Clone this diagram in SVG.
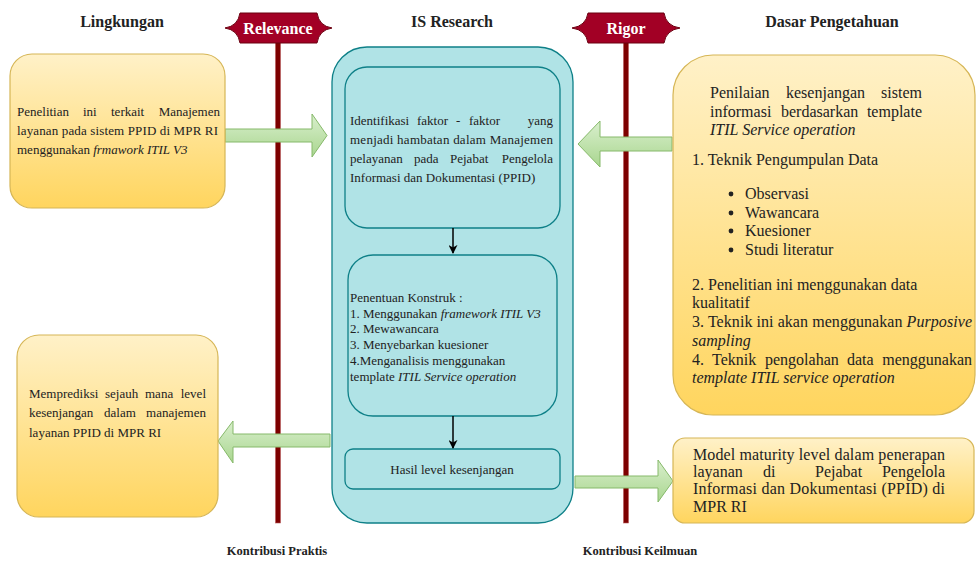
<svg xmlns="http://www.w3.org/2000/svg" width="977" height="561" viewBox="0 0 977 561">
<defs>
<linearGradient id="yel" x1="0" y1="0" x2="0" y2="1">
<stop offset="0" stop-color="#fff1c8"/>
<stop offset="1" stop-color="#ffd55e"/>
</linearGradient>
<linearGradient id="grn" x1="0" y1="0" x2="0" y2="1">
<stop offset="0" stop-color="#d9efcd"/>
<stop offset="1" stop-color="#a9d68f"/>
</linearGradient>
<marker id="ah" viewBox="0 0 10 10" refX="9" refY="5" markerWidth="6" markerHeight="6" orient="auto">
<path d="M0,0 L10,5 L0,10 L3,5 Z" fill="#000"/>
</marker>
</defs>
<style>
text{font-family:"Liberation Serif","Times New Roman",serif;fill:#222}
.hd{font-size:16px;font-weight:bold;text-anchor:middle}
.ban{fill:#a20025;stroke:#6b0010;stroke-width:1}
.bt{font-size:16px;font-weight:bold;fill:#fff;text-anchor:middle}
.pole{fill:#7d0000;stroke:#b85a5a;stroke-width:0.6}
.yb{fill:url(#yel);stroke:#d6b656;stroke-width:1.2}
.tb{fill:#b0e3e6;stroke:#0e8088;stroke-width:1.3}
.ga{fill:url(#grn);stroke:#86b96a;stroke-width:1}
.s{font-size:13px}
.m{font-size:16px}
.i{font-style:italic}
.e{text-anchor:end}
.ft{font-size:12.5px;font-weight:bold;text-anchor:middle}
.cn{stroke:#000;stroke-width:1.5;fill:none;marker-end:url(#ah)}
</style>

<g id="headers">
<text class="hd" x="122" y="27">Lingkungan</text>
<text class="hd" x="452" y="27">IS Research</text>
<text class="hd" x="832" y="27">Dasar Pengetahuan</text>
<text class="ft" x="277" y="555">Kontribusi Praktis</text>
<text class="ft" x="640" y="555">Kontribusi Keilmuan</text>
</g>

<g id="relevance">
<rect class="pole" x="275.5" y="42" width="5" height="481"/>
<path class="ban" d="M240,13 L317,13 Q319,26 332,28 Q319,30 317,43 L240,43 Q238,30 225,28 Q238,26 240,13 Z"/>
<text class="bt" x="278" y="34">Relevance</text>
</g>

<g id="rigor">
<rect class="pole" x="623.5" y="42" width="5" height="481"/>
<path class="ban" d="M588,13 L664,13 Q666,26 680,28 Q666,30 664,43 L588,43 Q586,30 572,28 Q586,26 588,13 Z"/>
<text class="bt" x="626" y="34">Rigor</text>
</g>

<g id="connectors">
<path class="ga" d="M225,129 L312,129 L312,114 L327,135.5 L312,157 L312,142 L225,142 Z"/>
<path class="ga" d="M672,137 L600,137 L600,121 L578,144 L600,167 L600,151 L672,151 Z"/>
<path class="ga" d="M330,434 L233,434 L233,421 L218,441 L233,463 L233,447 L330,447 Z"/>
<path class="ga" d="M575,476 L658,476 L658,460 L673,481 L658,502 L658,488 L575,488 Z"/>
</g>

<g id="lingkungan1">
<rect class="yb" x="10" y="54" width="215" height="154" rx="22"/>
<text class="s" y="116"><tspan x="17">Penelitian</tspan><tspan x="83">ini</tspan><tspan x="111">terkait</tspan><tspan x="220" class="e">Manajemen</tspan></text>
<text class="s" x="17" y="135" textLength="201" lengthAdjust="spacing">layanan pada sistem PPID di MPR RI</text>
<text class="s" x="17" y="154">menggunakan <tspan class="i">frmawork ITIL V3</tspan></text>
</g>

<g id="lingkungan2">
<rect class="yb" x="17" y="335" width="201" height="182" rx="22"/>
<text class="s" y="398"><tspan x="29">Memprediksi</tspan><tspan x="105">sejauh</tspan><tspan x="145">mana</tspan><tspan x="206" class="e">level</tspan></text>
<text class="s" y="417"><tspan x="29">kesenjangan</tspan><tspan x="104">dalam</tspan><tspan x="206" class="e">manajemen</tspan></text>
<text class="s" x="29" y="437">layanan PPID di MPR RI</text>
</g>

<g id="isresearch">
<rect class="tb" x="332" y="47" width="241" height="476" rx="35"/>
</g>

<g id="identifikasi">
<rect class="tb" x="345" y="67" width="215" height="161" rx="22"/>
<text class="s" y="125"><tspan x="350">Identifikasi</tspan><tspan x="417">faktor</tspan><tspan x="456">-</tspan><tspan x="469">faktor</tspan><tspan x="553" class="e">yang</tspan></text>
<text class="s" x="350" y="144" textLength="203" lengthAdjust="spacing">menjadi hambatan dalam Manajemen</text>
<text class="s" y="163"><tspan x="350">pelayanan</tspan><tspan x="414">pada</tspan><tspan x="450">Pejabat</tspan><tspan x="553" class="e">Pengelola</tspan></text>
<text class="s" x="350" y="182">Informasi dan Dokumentasi (PPID)</text>
</g>

<g id="konstruk">
<rect class="tb" x="348" y="255" width="209" height="161" rx="25"/>
<text class="s" x="350" y="302">Penentuan Konstruk :</text>
<text class="s" x="350" y="318">1. Menggunakan <tspan class="i">framework ITIL V3</tspan></text>
<text class="s" x="350" y="333">2. Mewawancara</text>
<text class="s" x="350" y="349">3. Menyebarkan kuesioner</text>
<text class="s" x="350" y="365">4.Menganalisis menggunakan</text>
<text class="s" x="350" y="381">template <tspan class="i">ITIL Service operation</tspan></text>
</g>

<g id="hasil">
<rect class="tb" x="345" y="449" width="215" height="40" rx="8"/>
<text class="s" x="452" y="474" text-anchor="middle">Hasil level kesenjangan</text>
</g>

<g id="inner-connectors">
<line class="cn" x1="453" y1="228" x2="453" y2="253"/>
<line class="cn" x1="453" y1="416" x2="453" y2="448"/>
</g>

<g id="dasar">
<rect class="yb" x="673" y="55" width="302" height="360" rx="40"/>
<text class="m" y="98"><tspan x="710">Penilaian</tspan><tspan x="786">kesenjangan</tspan><tspan x="922" class="e">sistem</tspan></text>
<text class="m" y="117"><tspan x="710">informasi</tspan><tspan x="781">berdasarkan</tspan><tspan x="922" class="e">template</tspan></text>
<text class="m i" x="710" y="135">ITIL Service operation</text>
<text class="m" x="692" y="165">1. Teknik Pengumpulan Data</text>
<circle cx="731" cy="194" r="2.4" fill="#222"/><text class="m" x="745" y="199">Observasi</text>
<circle cx="731" cy="213" r="2.4" fill="#222"/><text class="m" x="745" y="218">Wawancara</text>
<circle cx="731" cy="231" r="2.4" fill="#222"/><text class="m" x="745" y="236">Kuesioner</text>
<circle cx="731" cy="250" r="2.4" fill="#222"/><text class="m" x="745" y="255">Studi literatur</text>
<text class="m" x="692" y="290">2. Penelitian ini menggunakan data</text>
<text class="m" x="692" y="308">kualitatif</text>
<text class="m" x="692" y="327" textLength="280" lengthAdjust="spacing">3. Teknik ini akan menggunakan <tspan class="i">Purposive</tspan></text>
<text class="m i" x="692" y="346">sampling</text>
<text class="m" y="365"><tspan x="692">4.</tspan><tspan x="712">Teknik</tspan><tspan x="765">pengolahan</tspan><tspan x="847">data</tspan><tspan x="972" class="e">menggunakan</tspan></text>
<text class="m i" x="692" y="383">template ITIL service operation</text>
</g>

<g id="maturity">
<rect class="yb" x="673" y="438" width="301" height="85" rx="12"/>
<text class="m" x="693" y="460" textLength="252" lengthAdjust="spacing">Model maturity level dalam penerapan</text>
<text class="m" y="477"><tspan x="693">layanan</tspan><tspan x="763">di</tspan><tspan x="815">Pejabat</tspan><tspan x="945" class="e">Pengelola</tspan></text>
<text class="m" x="693" y="494" textLength="252" lengthAdjust="spacing">Informasi dan Dokumentasi (PPID) di</text>
<text class="m" x="693" y="512">MPR RI</text>
</g>
</svg>
